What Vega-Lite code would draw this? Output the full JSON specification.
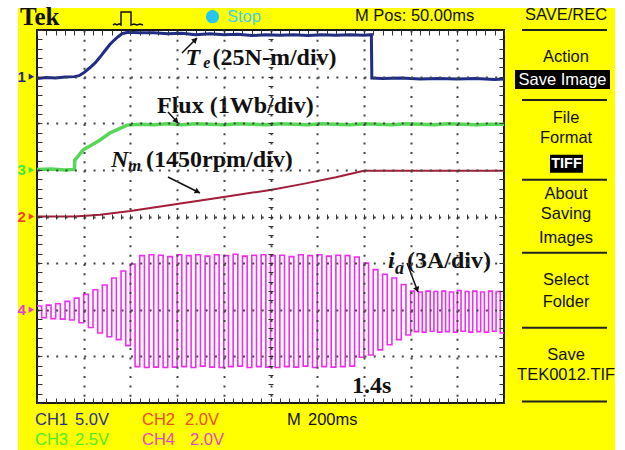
{
  "$schema": "https://vega.github.io/schema/vega-lite/v6.json",
  "description": "Tektronix scope capture: electromagnetic torque, flux, rotor speed and phase current during a speed ramp (10 x 8 divisions).",
  "width": 467,
  "height": 373,
  "autosize": {"type": "none"},
  "padding": {"left": 37, "top": 30, "right": 121, "bottom": 47},
  "background": "#ffffff",
  "config": {"view": {"stroke": null}},
  "data": {"values": [{}]},
  "datasets": {
    "torque": [
      {"t": 0, "y": 2.96}, {"t": 0.2, "y": 2.98}, {"t": 0.4, "y": 2.97}, {"t": 0.6, "y": 2.99}, {"t": 0.8, "y": 3.0},
      {"t": 0.9, "y": 3.02}, {"t": 1.0, "y": 3.08}, {"t": 1.13, "y": 3.19}, {"t": 1.25, "y": 3.3}, {"t": 1.35, "y": 3.42},
      {"t": 1.45, "y": 3.55}, {"t": 1.56, "y": 3.69}, {"t": 1.65, "y": 3.78}, {"t": 1.73, "y": 3.85}, {"t": 1.82, "y": 3.92},
      {"t": 1.95, "y": 3.95}, {"t": 2.2, "y": 3.94}, {"t": 2.5, "y": 3.94}, {"t": 2.8, "y": 3.92}, {"t": 3.1, "y": 3.93},
      {"t": 3.4, "y": 3.9}, {"t": 3.7, "y": 3.92}, {"t": 4.0, "y": 3.9}, {"t": 4.3, "y": 3.91}, {"t": 4.6, "y": 3.88},
      {"t": 4.9, "y": 3.9}, {"t": 5.2, "y": 3.89}, {"t": 5.5, "y": 3.9}, {"t": 5.8, "y": 3.88}, {"t": 6.1, "y": 3.9},
      {"t": 6.4, "y": 3.89}, {"t": 6.7, "y": 3.9}, {"t": 7.0, "y": 3.89}, {"t": 7.16, "y": 3.9}, {"t": 7.17, "y": 2.97},
      {"t": 7.4, "y": 2.96}, {"t": 7.8, "y": 2.97}, {"t": 8.2, "y": 2.95}, {"t": 8.6, "y": 2.96}, {"t": 9.0, "y": 2.95},
      {"t": 9.4, "y": 2.96}, {"t": 9.8, "y": 2.94}, {"t": 10.0, "y": 2.95}
    ],
    "flux": [
      {"t": 0, "y": 1.01}, {"t": 0.3, "y": 1.02}, {"t": 0.6, "y": 1.0}, {"t": 0.8, "y": 1.01}, {"t": 0.81, "y": 1.21},
      {"t": 0.99, "y": 1.43}, {"t": 1.2, "y": 1.55}, {"t": 1.35, "y": 1.64}, {"t": 1.56, "y": 1.79}, {"t": 1.73, "y": 1.87},
      {"t": 1.93, "y": 1.96}, {"t": 2.2, "y": 1.98}, {"t": 2.5, "y": 1.97}, {"t": 2.8, "y": 1.99}, {"t": 3.1, "y": 1.97},
      {"t": 3.4, "y": 1.99}, {"t": 3.7, "y": 1.98}, {"t": 4.0, "y": 1.97}, {"t": 4.3, "y": 1.99}, {"t": 4.6, "y": 1.98},
      {"t": 4.9, "y": 1.97}, {"t": 5.2, "y": 1.99}, {"t": 5.5, "y": 1.98}, {"t": 5.8, "y": 1.97}, {"t": 6.1, "y": 1.99},
      {"t": 6.4, "y": 1.98}, {"t": 6.7, "y": 1.97}, {"t": 7.0, "y": 1.99}, {"t": 7.3, "y": 1.98}, {"t": 7.6, "y": 1.97},
      {"t": 7.9, "y": 1.99}, {"t": 8.2, "y": 1.98}, {"t": 8.5, "y": 1.97}, {"t": 8.8, "y": 1.99}, {"t": 9.1, "y": 1.98},
      {"t": 9.4, "y": 1.97}, {"t": 9.7, "y": 1.98}, {"t": 10.0, "y": 1.98}
    ],
    "speed": [
      {"t": 0, "y": 0.0}, {"t": 0.4, "y": 0.0}, {"t": 0.81, "y": 0.0}, {"t": 1.35, "y": 0.04}, {"t": 2.0, "y": 0.12},
      {"t": 3.0, "y": 0.27}, {"t": 4.0, "y": 0.42}, {"t": 5.0, "y": 0.57}, {"t": 5.7, "y": 0.7}, {"t": 6.4, "y": 0.84},
      {"t": 7.0, "y": 0.98}, {"t": 10.0, "y": 0.98}
    ],
    "current": [
      {"t": 0, "y": -1.92}, {"t": 0.1, "y": -2.17}, {"t": 0.2, "y": -1.9}, {"t": 0.3, "y": -2.19}, {"t": 0.4, "y": -1.87},
      {"t": 0.5, "y": -2.2}, {"t": 0.6, "y": -1.82}, {"t": 0.7, "y": -2.22}, {"t": 0.8, "y": -1.75}, {"t": 0.9, "y": -2.28},
      {"t": 1.0, "y": -1.67}, {"t": 1.1, "y": -2.38}, {"t": 1.2, "y": -1.57}, {"t": 1.3, "y": -2.5}, {"t": 1.4, "y": -1.47},
      {"t": 1.5, "y": -2.58}, {"t": 1.6, "y": -1.32}, {"t": 1.7, "y": -2.64}, {"t": 1.8, "y": -1.17}, {"t": 1.9, "y": -2.77},
      {"t": 2.0, "y": -1.02}, {"t": 2.1, "y": -3.22}, {"t": 2.2, "y": -0.84}, {"t": 2.3, "y": -3.24}, {"t": 2.4, "y": -0.82},
      {"t": 2.5, "y": -3.23}, {"t": 2.6, "y": -0.83}, {"t": 2.7, "y": -3.24}, {"t": 2.8, "y": -0.86}, {"t": 2.9, "y": -3.23},
      {"t": 3.0, "y": -0.82}, {"t": 3.1, "y": -3.22}, {"t": 3.2, "y": -0.84}, {"t": 3.3, "y": -3.24}, {"t": 3.4, "y": -0.82},
      {"t": 3.5, "y": -3.21}, {"t": 3.6, "y": -0.85}, {"t": 3.7, "y": -3.23}, {"t": 3.8, "y": -0.82}, {"t": 3.9, "y": -3.24},
      {"t": 4.0, "y": -0.84}, {"t": 4.1, "y": -3.22}, {"t": 4.2, "y": -0.81}, {"t": 4.3, "y": -3.21}, {"t": 4.4, "y": -0.85},
      {"t": 4.5, "y": -3.24}, {"t": 4.6, "y": -0.83}, {"t": 4.7, "y": -3.22}, {"t": 4.8, "y": -0.82}, {"t": 4.9, "y": -3.23},
      {"t": 5.0, "y": -0.84}, {"t": 5.1, "y": -3.24}, {"t": 5.2, "y": -0.83}, {"t": 5.3, "y": -3.22}, {"t": 5.4, "y": -0.86},
      {"t": 5.5, "y": -3.23}, {"t": 5.6, "y": -0.82}, {"t": 5.7, "y": -3.21}, {"t": 5.8, "y": -0.84}, {"t": 5.9, "y": -3.24},
      {"t": 6.0, "y": -0.82}, {"t": 6.1, "y": -3.22}, {"t": 6.2, "y": -0.85}, {"t": 6.3, "y": -3.23}, {"t": 6.4, "y": -0.83},
      {"t": 6.5, "y": -3.22}, {"t": 6.6, "y": -0.84}, {"t": 6.7, "y": -3.21}, {"t": 6.8, "y": -0.87}, {"t": 6.9, "y": -3.02},
      {"t": 7.0, "y": -1.0}, {"t": 7.1, "y": -2.97}, {"t": 7.2, "y": -1.14}, {"t": 7.3, "y": -2.86}, {"t": 7.4, "y": -1.24},
      {"t": 7.5, "y": -2.75}, {"t": 7.6, "y": -1.32}, {"t": 7.7, "y": -2.64}, {"t": 7.8, "y": -1.46}, {"t": 7.9, "y": -2.54},
      {"t": 8.0, "y": -1.6}, {"t": 8.08, "y": -2.47}, {"t": 8.17, "y": -1.62}, {"t": 8.25, "y": -2.48}, {"t": 8.33, "y": -1.6},
      {"t": 8.42, "y": -2.46}, {"t": 8.5, "y": -1.61}, {"t": 8.58, "y": -2.48}, {"t": 8.67, "y": -1.6}, {"t": 8.75, "y": -2.47},
      {"t": 8.83, "y": -1.62}, {"t": 8.92, "y": -2.48}, {"t": 9.0, "y": -1.59}, {"t": 9.08, "y": -2.46}, {"t": 9.17, "y": -1.61},
      {"t": 9.25, "y": -2.48}, {"t": 9.33, "y": -1.6}, {"t": 9.42, "y": -2.47}, {"t": 9.5, "y": -1.62}, {"t": 9.58, "y": -2.48},
      {"t": 9.67, "y": -1.6}, {"t": 9.75, "y": -2.46}, {"t": 9.83, "y": -1.61}, {"t": 9.92, "y": -2.5}, {"t": 10.0, "y": -2.5}
    ],
    "trigger": [
      {"t": 1.627, "y": 4.107}, {"t": 1.67, "y": 4.13}, {"t": 1.713, "y": 4.107}, {"t": 1.756, "y": 4.13}, {"t": 1.799, "y": 4.107},
      {"t": 1.799, "y": 4.386}, {"t": 2.013, "y": 4.386}, {"t": 2.013, "y": 4.107}, {"t": 2.077, "y": 4.13}, {"t": 2.141, "y": 4.107},
      {"t": 2.206, "y": 4.13}, {"t": 2.27, "y": 4.107}
    ],
    "markers": [
      {"ch": "1", "level": 3}, {"ch": "2", "level": 0}, {"ch": "3", "level": 1}, {"ch": "4", "level": -2}
    ]
  },
  "resolve": {"axis": {"x": "independent", "y": "independent"}},
  "layer": [
    {
      "mark": {"type": "rect", "fill": "#ffff00", "stroke": null},
      "encoding": {
        "x": {"datum": -0.407, "type": "quantitative", "scale": {"domain": [0, 10], "nice": false, "zero": false}, "axis": null},
        "x2": {"datum": 12.377},
        "y": {"datum": -5.1, "type": "quantitative", "scale": {"domain": [-4, 4], "nice": false, "zero": false}, "axis": null},
        "y2": {"datum": 4.472}
      }
    },
    {
      "mark": {"type": "rect", "fill": "#ffffff", "stroke": "#1a1a1a", "strokeWidth": 2},
      "encoding": {
        "x": {"datum": 0, "type": "quantitative", "axis": null},
        "x2": {"datum": 10},
        "y": {"datum": -4, "type": "quantitative", "axis": null},
        "y2": {"datum": 4}
      }
    },
    {
      "data": {"name": "torque"},
      "mark": {"type": "line", "color": "#1f2d88", "strokeWidth": 3},
      "encoding": {
        "x": {"field": "t", "type": "quantitative", "scale": {"domain": [0, 10], "nice": false, "zero": false},
              "axis": {"orient": "bottom", "offset": -5, "tickCount": 50, "tickSize": 5, "tickColor": "#333333", "tickWidth": 1, "labels": false, "domain": false, "grid": false, "title": null, "zindex": 1}},
        "y": {"field": "y", "type": "quantitative", "scale": {"domain": [-4, 4], "nice": false, "zero": false},
              "axis": {"orient": "left", "offset": -5, "tickCount": 40, "tickSize": 5, "tickColor": "#333333", "tickWidth": 1, "labels": false, "domain": false, "grid": false, "title": null, "zindex": 1}}
      }
    },
    {
      "data": {"name": "flux"},
      "mark": {"type": "line", "color": "#55d855", "strokeWidth": 3.5},
      "encoding": {
        "x": {"field": "t", "type": "quantitative",
              "axis": {"orient": "top", "offset": -5, "tickCount": 50, "tickSize": 5, "tickColor": "#333333", "tickWidth": 1, "labels": false, "domain": false, "grid": false, "title": null, "zindex": 1}},
        "y": {"field": "y", "type": "quantitative",
              "axis": {"orient": "right", "offset": -5, "tickCount": 40, "tickSize": 5, "tickColor": "#333333", "tickWidth": 1, "labels": false, "domain": false, "grid": false, "title": null, "zindex": 1}}
      }
    },
    {
      "data": {"name": "speed"},
      "mark": {"type": "line", "color": "#a31d3a", "strokeWidth": 2},
      "encoding": {
        "x": {"field": "t", "type": "quantitative",
              "axis": {"orient": "bottom", "offset": -189, "tickCount": 50, "tickSize": 5, "tickColor": "#333333", "tickWidth": 1, "labels": false, "domain": false, "grid": false, "title": null, "zindex": 1}},
        "y": {"field": "y", "type": "quantitative",
              "axis": {"orient": "left", "offset": -236, "tickCount": 40, "tickSize": 5, "tickColor": "#333333", "tickWidth": 1, "labels": false, "domain": false, "grid": false, "title": null, "zindex": 1}}
      }
    },
    {
      "data": {"name": "current"},
      "mark": {"type": "line", "color": "#f02cf0", "strokeWidth": 1.6, "interpolate": "step-after"},
      "encoding": {
        "x": {"field": "t", "type": "quantitative",
              "axis": {"orient": "bottom", "values": [1, 2, 3, 4, 5, 6, 7, 8, 9], "ticks": false, "labels": false, "domain": false, "grid": true, "gridColor": "#444444", "gridWidth": 2, "gridDash": [2, 7.34], "title": null, "zindex": 1}},
        "y": {"field": "y", "type": "quantitative",
              "axis": {"orient": "left", "values": [-3, -2, -1, 0, 1, 2, 3], "ticks": false, "labels": false, "domain": false, "grid": true, "gridColor": "#444444", "gridWidth": 2, "gridDash": [2, 7.34], "title": null, "zindex": 1}}
      }
    },
    {
      "data": {"name": "markers"},
      "mark": {"type": "text", "font": "Liberation Sans", "fontWeight": "bold", "fontSize": 15, "align": "center", "baseline": "middle"},
      "encoding": {
        "x": {"datum": -0.33, "type": "quantitative", "axis": null},
        "y": {"field": "level", "type": "quantitative", "axis": null},
        "text": {"field": "ch"},
        "color": {"field": "ch", "type": "nominal", "scale": {"domain": ["1", "2", "3", "4"], "range": ["#1f2a80", "#f2441c", "#3ee83e", "#e83ad8"]}, "legend": null}
      }
    },
    {
      "data": {"name": "markers"},
      "mark": {"type": "point", "shape": "triangle-right", "filled": true, "size": 40, "opacity": 1},
      "encoding": {
        "x": {"datum": -0.12, "type": "quantitative", "axis": null},
        "y": {"field": "level", "type": "quantitative", "axis": null},
        "color": {"field": "ch", "type": "nominal", "scale": {"domain": ["1", "2", "3", "4"], "range": ["#1f2a80", "#f2441c", "#3ee83e", "#e83ad8"]}, "legend": null}
      }
    },
    {
      "data": {"name": "trigger"},
      "mark": {"type": "line", "color": "#111111", "strokeWidth": 1.5},
      "encoding": {
        "x": {"field": "t", "type": "quantitative", "axis": null},
        "y": {"field": "y", "type": "quantitative", "axis": null},
        "order": {"value": null}
      }
    },
    {
      "mark": {"type": "text", "text": "Tek", "font": "Liberation Serif", "fontWeight": "bold", "fontSize": 25, "align": "left", "baseline": "alphabetic", "color": "#111111"},
      "encoding": {"x": {"datum": -0.364, "type": "quantitative", "axis": null}, "y": {"datum": 4.107, "type": "quantitative", "axis": null}}
    },
    {
      "mark": {"type": "point", "shape": "circle", "filled": true, "size": 175, "color": "#25c8f0", "opacity": 1},
      "encoding": {"x": {"datum": 3.758, "type": "quantitative", "axis": null}, "y": {"datum": 4.285, "type": "quantitative", "axis": null}}
    },
    {
      "mark": {"type": "text", "text": "Stop", "font": "Liberation Sans, Arial, sans-serif", "fontSize": 16.5, "align": "left", "baseline": "middle", "color": "#3cd2f0"},
      "encoding": {"x": {"datum": 4.069, "type": "quantitative", "axis": null}, "y": {"datum": 4.285, "type": "quantitative", "axis": null}}
    },
    {
      "mark": {"type": "text", "text": "M Pos: 50.00ms", "font": "Liberation Sans, Arial, sans-serif", "fontSize": 16.5, "align": "left", "baseline": "middle", "color": "#111111"},
      "encoding": {"x": {"datum": 6.809, "type": "quantitative", "axis": null}, "y": {"datum": 4.3, "type": "quantitative", "axis": null}}
    },
    {
      "mark": {"type": "text", "text": "SAVE/REC", "font": "Liberation Sans, Arial, sans-serif", "fontSize": 16.5, "align": "center", "baseline": "middle", "color": "#111111"},
      "encoding": {"x": {"datum": 11.328, "type": "quantitative", "axis": null}, "y": {"datum": 4.322, "type": "quantitative", "axis": null}}
    },
    {
      "mark": {"type": "rule", "color": "#222222", "strokeWidth": 2},
      "encoding": {"x": {"datum": 10.385, "type": "quantitative", "axis": null}, "x2": {"datum": 12.206}, "y": {"datum": 4.0, "type": "quantitative", "axis": null}}
    },
    {
      "mark": {"type": "rule", "color": "#222222", "strokeWidth": 2},
      "encoding": {"x": {"datum": 10.385, "type": "quantitative", "axis": null}, "x2": {"datum": 12.206}, "y": {"datum": 2.5, "type": "quantitative", "axis": null}}
    },
    {
      "mark": {"type": "rule", "color": "#222222", "strokeWidth": 2},
      "encoding": {"x": {"datum": 10.385, "type": "quantitative", "axis": null}, "x2": {"datum": 12.206}, "y": {"datum": 0.786, "type": "quantitative", "axis": null}}
    },
    {
      "mark": {"type": "rule", "color": "#222222", "strokeWidth": 2},
      "encoding": {"x": {"datum": 10.385, "type": "quantitative", "axis": null}, "x2": {"datum": 12.206}, "y": {"datum": -0.778, "type": "quantitative", "axis": null}}
    },
    {
      "mark": {"type": "rule", "color": "#222222", "strokeWidth": 2},
      "encoding": {"x": {"datum": 10.385, "type": "quantitative", "axis": null}, "x2": {"datum": 12.206}, "y": {"datum": -2.385, "type": "quantitative", "axis": null}}
    },
    {
      "mark": {"type": "rule", "color": "#222222", "strokeWidth": 2},
      "encoding": {"x": {"datum": 10.385, "type": "quantitative", "axis": null}, "x2": {"datum": 12.206}, "y": {"datum": -3.97, "type": "quantitative", "axis": null}}
    },
    {
      "mark": {"type": "rect", "fill": "#000000"},
      "encoding": {"x": {"datum": 10.236, "type": "quantitative", "axis": null}, "x2": {"datum": 12.27}, "y": {"datum": 2.736, "type": "quantitative", "axis": null}, "y2": {"datum": 3.143}}
    },
    {
      "mark": {"type": "rect", "fill": "#000000"},
      "encoding": {"x": {"datum": 10.985, "type": "quantitative", "axis": null}, "x2": {"datum": 11.692}, "y": {"datum": 0.936, "type": "quantitative", "axis": null}, "y2": {"datum": 1.322}}
    },
    {
      "mark": {"type": "text", "text": "Action", "font": "Liberation Sans, Arial, sans-serif", "fontSize": 16.5, "align": "center", "baseline": "middle", "color": "#111111"},
      "encoding": {"x": {"datum": 11.328, "type": "quantitative", "axis": null}, "y": {"datum": 3.421, "type": "quantitative", "axis": null}}
    },
    {
      "mark": {"type": "text", "text": "Save Image", "font": "Liberation Sans, Arial, sans-serif", "fontSize": 16.5, "align": "center", "baseline": "middle", "color": "#ffffff"},
      "encoding": {"x": {"datum": 11.253, "type": "quantitative", "axis": null}, "y": {"datum": 2.928, "type": "quantitative", "axis": null}}
    },
    {
      "mark": {"type": "text", "text": "File", "font": "Liberation Sans, Arial, sans-serif", "fontSize": 16.5, "align": "center", "baseline": "middle", "color": "#111111"},
      "encoding": {"x": {"datum": 11.328, "type": "quantitative", "axis": null}, "y": {"datum": 2.107, "type": "quantitative", "axis": null}}
    },
    {
      "mark": {"type": "text", "text": "Format", "font": "Liberation Sans, Arial, sans-serif", "fontSize": 16.5, "align": "center", "baseline": "middle", "color": "#111111"},
      "encoding": {"x": {"datum": 11.328, "type": "quantitative", "axis": null}, "y": {"datum": 1.684, "type": "quantitative", "axis": null}}
    },
    {
      "mark": {"type": "text", "text": "TIFF", "font": "Liberation Sans, Arial, sans-serif", "fontSize": 14.5, "fontWeight": "bold", "align": "center", "baseline": "middle", "color": "#ffffff"},
      "encoding": {"x": {"datum": 11.338, "type": "quantitative", "axis": null}, "y": {"datum": 1.135, "type": "quantitative", "axis": null}}
    },
    {
      "mark": {"type": "text", "text": "About", "font": "Liberation Sans, Arial, sans-serif", "fontSize": 16.5, "align": "center", "baseline": "middle", "color": "#111111"},
      "encoding": {"x": {"datum": 11.328, "type": "quantitative", "axis": null}, "y": {"datum": 0.49, "type": "quantitative", "axis": null}}
    },
    {
      "mark": {"type": "text", "text": "Saving", "font": "Liberation Sans, Arial, sans-serif", "fontSize": 16.5, "align": "center", "baseline": "middle", "color": "#111111"},
      "encoding": {"x": {"datum": 11.328, "type": "quantitative", "axis": null}, "y": {"datum": 0.05, "type": "quantitative", "axis": null}}
    },
    {
      "mark": {"type": "text", "text": "Images", "font": "Liberation Sans, Arial, sans-serif", "fontSize": 16.5, "align": "center", "baseline": "middle", "color": "#111111"},
      "encoding": {"x": {"datum": 11.328, "type": "quantitative", "axis": null}, "y": {"datum": -0.461, "type": "quantitative", "axis": null}}
    },
    {
      "mark": {"type": "text", "text": "Select", "font": "Liberation Sans, Arial, sans-serif", "fontSize": 16.5, "align": "center", "baseline": "middle", "color": "#111111"},
      "encoding": {"x": {"datum": 11.328, "type": "quantitative", "axis": null}, "y": {"datum": -1.362, "type": "quantitative", "axis": null}}
    },
    {
      "mark": {"type": "text", "text": "Folder", "font": "Liberation Sans, Arial, sans-serif", "fontSize": 16.5, "align": "center", "baseline": "middle", "color": "#111111"},
      "encoding": {"x": {"datum": 11.328, "type": "quantitative", "axis": null}, "y": {"datum": -1.834, "type": "quantitative", "axis": null}}
    },
    {
      "mark": {"type": "text", "text": "Save", "font": "Liberation Sans, Arial, sans-serif", "fontSize": 16.5, "align": "center", "baseline": "middle", "color": "#111111"},
      "encoding": {"x": {"datum": 11.328, "type": "quantitative", "axis": null}, "y": {"datum": -2.97, "type": "quantitative", "axis": null}}
    },
    {
      "mark": {"type": "text", "text": "TEK0012.TIF", "font": "Liberation Sans, Arial, sans-serif", "fontSize": 16.5, "align": "center", "baseline": "middle", "color": "#111111"},
      "encoding": {"x": {"datum": 11.33, "type": "quantitative", "axis": null}, "y": {"datum": -3.399, "type": "quantitative", "axis": null}}
    },
    {
      "mark": {"type": "text", "text": "CH1", "font": "Liberation Sans, Arial, sans-serif", "fontSize": 16.5, "align": "left", "baseline": "middle", "color": "#27308a"},
      "encoding": {"x": {"datum": -0.043, "type": "quantitative", "axis": null}, "y": {"datum": -4.365, "type": "quantitative", "axis": null}}
    },
    {
      "mark": {"type": "text", "text": "5.0V", "font": "Liberation Sans, Arial, sans-serif", "fontSize": 16.5, "align": "left", "baseline": "middle", "color": "#27308a"},
      "encoding": {"x": {"datum": 0.814, "type": "quantitative", "axis": null}, "y": {"datum": -4.365, "type": "quantitative", "axis": null}}
    },
    {
      "mark": {"type": "text", "text": "CH2", "font": "Liberation Sans, Arial, sans-serif", "fontSize": 16.5, "align": "left", "baseline": "middle", "color": "#f04a1e"},
      "encoding": {"x": {"datum": 2.248, "type": "quantitative", "axis": null}, "y": {"datum": -4.365, "type": "quantitative", "axis": null}}
    },
    {
      "mark": {"type": "text", "text": "2.0V", "font": "Liberation Sans, Arial, sans-serif", "fontSize": 16.5, "align": "left", "baseline": "middle", "color": "#f04a1e"},
      "encoding": {"x": {"datum": 3.169, "type": "quantitative", "axis": null}, "y": {"datum": -4.365, "type": "quantitative", "axis": null}}
    },
    {
      "mark": {"type": "text", "text": "M", "font": "Liberation Sans, Arial, sans-serif", "fontSize": 16.5, "align": "left", "baseline": "middle", "color": "#111111"},
      "encoding": {"x": {"datum": 5.353, "type": "quantitative", "axis": null}, "y": {"datum": -4.365, "type": "quantitative", "axis": null}}
    },
    {
      "mark": {"type": "text", "text": "200ms", "font": "Liberation Sans, Arial, sans-serif", "fontSize": 16.5, "align": "left", "baseline": "middle", "color": "#111111"},
      "encoding": {"x": {"datum": 5.803, "type": "quantitative", "axis": null}, "y": {"datum": -4.365, "type": "quantitative", "axis": null}}
    },
    {
      "mark": {"type": "text", "text": "CH3", "font": "Liberation Sans, Arial, sans-serif", "fontSize": 16.5, "align": "left", "baseline": "middle", "color": "#4eec2a"},
      "encoding": {"x": {"datum": -0.043, "type": "quantitative", "axis": null}, "y": {"datum": -4.8, "type": "quantitative", "axis": null}}
    },
    {
      "mark": {"type": "text", "text": "2.5V", "font": "Liberation Sans, Arial, sans-serif", "fontSize": 16.5, "align": "left", "baseline": "middle", "color": "#4eec2a"},
      "encoding": {"x": {"datum": 0.814, "type": "quantitative", "axis": null}, "y": {"datum": -4.8, "type": "quantitative", "axis": null}}
    },
    {
      "mark": {"type": "text", "text": "CH4", "font": "Liberation Sans, Arial, sans-serif", "fontSize": 16.5, "align": "left", "baseline": "middle", "color": "#e646c8"},
      "encoding": {"x": {"datum": 2.248, "type": "quantitative", "axis": null}, "y": {"datum": -4.8, "type": "quantitative", "axis": null}}
    },
    {
      "mark": {"type": "text", "text": "2.0V", "font": "Liberation Sans, Arial, sans-serif", "fontSize": 16.5, "align": "left", "baseline": "middle", "color": "#e646c8"},
      "encoding": {"x": {"datum": 3.276, "type": "quantitative", "axis": null}, "y": {"datum": -4.8, "type": "quantitative", "axis": null}}
    },
    {
      "mark": {"type": "text", "text": "T", "font": "Liberation Serif", "fontWeight": "bold", "fontStyle": "italic", "fontSize": 24, "align": "left", "baseline": "alphabetic", "color": "#111111"},
      "encoding": {"x": {"datum": 3.18, "type": "quantitative", "axis": null}, "y": {"datum": 3.249, "type": "quantitative", "axis": null}}
    },
    {
      "mark": {"type": "text", "text": "e", "font": "Liberation Serif", "fontWeight": "bold", "fontStyle": "italic", "fontSize": 16, "align": "left", "baseline": "alphabetic", "color": "#111111"},
      "encoding": {"x": {"datum": 3.56, "type": "quantitative", "axis": null}, "y": {"datum": 3.18, "type": "quantitative", "axis": null}}
    },
    {
      "mark": {"type": "text", "text": "(25N-m/div)", "font": "Liberation Serif", "fontWeight": "bold", "fontSize": 24, "align": "left", "baseline": "alphabetic", "color": "#111111"},
      "encoding": {"x": {"datum": 3.76, "type": "quantitative", "axis": null}, "y": {"datum": 3.249, "type": "quantitative", "axis": null}}
    },
    {
      "mark": {"type": "text", "text": "Flux (1Wb/div)", "font": "Liberation Serif", "fontWeight": "bold", "fontSize": 24, "align": "left", "baseline": "alphabetic", "color": "#111111"},
      "encoding": {"x": {"datum": 2.57, "type": "quantitative", "axis": null}, "y": {"datum": 2.22, "type": "quantitative", "axis": null}}
    },
    {
      "mark": {"type": "text", "text": "N", "font": "Liberation Serif", "fontWeight": "bold", "fontStyle": "italic", "fontSize": 24, "align": "left", "baseline": "alphabetic", "color": "#111111"},
      "encoding": {"x": {"datum": 1.585, "type": "quantitative", "axis": null}, "y": {"datum": 1.062, "type": "quantitative", "axis": null}}
    },
    {
      "mark": {"type": "text", "text": "m", "font": "Liberation Serif", "fontWeight": "bold", "fontStyle": "italic", "fontSize": 17, "align": "left", "baseline": "alphabetic", "color": "#111111"},
      "encoding": {"x": {"datum": 1.949, "type": "quantitative", "axis": null}, "y": {"datum": 0.976, "type": "quantitative", "axis": null}}
    },
    {
      "mark": {"type": "text", "text": "(1450rpm/div)", "font": "Liberation Serif", "fontWeight": "bold", "fontSize": 24, "align": "left", "baseline": "alphabetic", "color": "#111111"},
      "encoding": {"x": {"datum": 2.334, "type": "quantitative", "axis": null}, "y": {"datum": 1.062, "type": "quantitative", "axis": null}}
    },
    {
      "mark": {"type": "text", "text": "i", "font": "Liberation Serif", "fontWeight": "bold", "fontStyle": "italic", "fontSize": 24, "align": "left", "baseline": "alphabetic", "color": "#111111"},
      "encoding": {"x": {"datum": 7.516, "type": "quantitative", "axis": null}, "y": {"datum": -1.105, "type": "quantitative", "axis": null}}
    },
    {
      "mark": {"type": "text", "text": "a", "font": "Liberation Serif", "fontWeight": "bold", "fontStyle": "italic", "fontSize": 18, "align": "left", "baseline": "alphabetic", "color": "#111111"},
      "encoding": {"x": {"datum": 7.666, "type": "quantitative", "axis": null}, "y": {"datum": -1.233, "type": "quantitative", "axis": null}}
    },
    {
      "mark": {"type": "text", "text": "(3A/div)", "font": "Liberation Serif", "fontWeight": "bold", "fontSize": 24, "align": "left", "baseline": "alphabetic", "color": "#111111"},
      "encoding": {"x": {"datum": 7.923, "type": "quantitative", "axis": null}, "y": {"datum": -1.105, "type": "quantitative", "axis": null}}
    },
    {
      "mark": {"type": "text", "text": "1.4s", "font": "Liberation Serif", "fontWeight": "bold", "fontSize": 24, "align": "left", "baseline": "alphabetic", "color": "#111111"},
      "encoding": {"x": {"datum": 6.745, "type": "quantitative", "axis": null}, "y": {"datum": -3.786, "type": "quantitative", "axis": null}}
    },
    {
      "mark": {"type": "rule", "color": "#111111", "strokeWidth": 1.5},
      "encoding": {"x": {"datum": 3.105, "type": "quantitative", "axis": null}, "y": {"datum": 3.507, "type": "quantitative", "axis": null}, "x2": {"datum": 3.426}, "y2": {"datum": 3.828}}
    },
    {
      "mark": {"type": "point", "shape": "triangle-up", "filled": true, "size": 40, "color": "#111111", "opacity": 1, "angle": 45},
      "encoding": {"x": {"datum": 3.39, "type": "quantitative", "axis": null}, "y": {"datum": 3.79, "type": "quantitative", "axis": null}}
    },
    {
      "mark": {"type": "rule", "color": "#111111", "strokeWidth": 1.5},
      "encoding": {"x": {"datum": 2.805, "type": "quantitative", "axis": null}, "y": {"datum": 2.241, "type": "quantitative", "axis": null}, "x2": {"datum": 3.019}, "y2": {"datum": 2.005}}
    },
    {
      "mark": {"type": "point", "shape": "triangle-up", "filled": true, "size": 40, "color": "#111111", "opacity": 1, "angle": 138},
      "encoding": {"x": {"datum": 2.985, "type": "quantitative", "axis": null}, "y": {"datum": 2.045, "type": "quantitative", "axis": null}}
    },
    {
      "mark": {"type": "rule", "color": "#111111", "strokeWidth": 1.5},
      "encoding": {"x": {"datum": 2.805, "type": "quantitative", "axis": null}, "y": {"datum": 0.847, "type": "quantitative", "axis": null}, "x2": {"datum": 3.49}, "y2": {"datum": 0.504}}
    },
    {
      "mark": {"type": "point", "shape": "triangle-up", "filled": true, "size": 40, "color": "#111111", "opacity": 1, "angle": 117},
      "encoding": {"x": {"datum": 3.44, "type": "quantitative", "axis": null}, "y": {"datum": 0.53, "type": "quantitative", "axis": null}}
    },
    {
      "mark": {"type": "rule", "color": "#111111", "strokeWidth": 1.5},
      "encoding": {"x": {"datum": 7.923, "type": "quantitative", "axis": null}, "y": {"datum": -0.998, "type": "quantitative", "axis": null}, "x2": {"datum": 8.158}, "y2": {"datum": -1.62}}
    },
    {
      "mark": {"type": "point", "shape": "triangle-up", "filled": true, "size": 40, "color": "#111111", "opacity": 1, "angle": 159},
      "encoding": {"x": {"datum": 8.14, "type": "quantitative", "axis": null}, "y": {"datum": -1.57, "type": "quantitative", "axis": null}}
    }
  ]
}
